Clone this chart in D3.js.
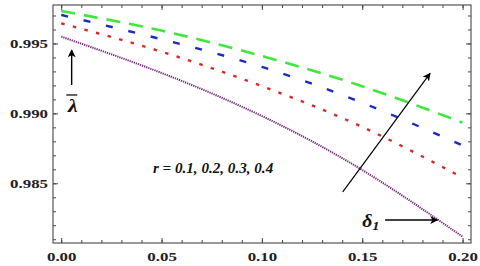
<!DOCTYPE html>
<html>
<head>
<meta charset="utf-8">
<script src="https://cdn.jsdelivr.net/npm/d3@7"></script>
<style>
  html, body { margin: 0; padding: 0; background: #fff; }
  svg { display: block; }
  .axis text { font-family: "Liberation Serif", "Times New Roman", serif; font-weight: bold; font-size: 13.5px; fill: #222; }
  .axis line { stroke: #444; }
  .note { font-family: "Liberation Serif", "Times New Roman", serif; font-weight: bold; font-style: italic; fill: #111; }
</style>
</head>
<body>
<div id="chart"></div>
<script>
/* DATA */
const delta1 = [0.00, 0.05, 0.10, 0.15, 0.20];
const lambdaR1 = [0.99732, 0.99592, 0.99410, 0.99194, 0.98934]; // green
const lambdaR2 = [0.99704, 0.99530, 0.99332, 0.99076, 0.98771]; // blue
const lambdaR3 = [0.99644, 0.99441, 0.99195, 0.98903, 0.98541]; // red
const lambdaR4 = [0.99549, 0.99289, 0.98981, 0.98595, 0.98118]; // purple
const xMajorTicks = [0.00, 0.05, 0.10, 0.15, 0.20];
const yMajorTicks = [0.985, 0.990, 0.995];
const rLabel = "r = 0.1, 0.2, 0.3, 0.4";

/* CONSTANTS */
const width = 480,
  height = 266,
  frame = { left: 53, right: 471, top: 5, bottom: 243 },
  stretch = 1.25; // the picture is a bit wider than tall

const series = [
  { values: lambdaR1, color: "#3ee83a", width: 2.6, dash: "14,9" },
  { values: lambdaR2, color: "#1b2ac4", width: 2.4, dash: "7,16" },
  { values: lambdaR3, color: "#d42a2a", width: 2.4, dash: "3.5,8.5" },
  { values: lambdaR4, color: "#7a2a80", width: 2, dash: "1.3,0.9" }
];

const xScale = d3.scaleLinear()
  .domain([-0.0041, 0.2042])
  .range([frame.left, frame.right]);

const yScale = d3.scaleLinear()
  .domain([0.98073, 0.99775])
  .range([frame.bottom, frame.top]);

const svg = d3.select("#chart")
  .append("svg")
  .attr("width", width)
  .attr("height", height);

const defs = svg.append("defs");
defs.append("marker")
  .attr("id", "head")
  .attr("viewBox", "0 0 10 10")
  .attr("refX", 9)
  .attr("refY", 5)
  .attr("markerWidth", 11)
  .attr("markerHeight", 8)
  .attr("markerUnits", "userSpaceOnUse")
  .attr("orient", "auto")
  .append("path")
  .attr("d", "M0,0 L10,5 L0,10 L2.5,5 Z")
  .attr("fill", "#000");

/* AXES */
const xMinor = d3.range(0, 0.2001, 0.01);
const yMinor = d3.range(0.981, 0.9975, 0.001);

// minor ticks (all four sides)
svg.append("g").attr("class", "axis")
  .attr("transform", `translate(0,${frame.bottom})`)
  .call(d3.axisBottom(xScale).tickValues(xMinor).tickSize(-3).tickFormat(""));
svg.append("g").attr("class", "axis")
  .attr("transform", `translate(0,${frame.top})`)
  .call(d3.axisTop(xScale).tickValues(xMinor).tickSize(-3).tickFormat(""));
svg.append("g").attr("class", "axis")
  .attr("transform", `translate(${frame.left},0)`)
  .call(d3.axisLeft(yScale).tickValues(yMinor).tickSize(-3).tickFormat(""));
svg.append("g").attr("class", "axis")
  .attr("transform", `translate(${frame.right},0)`)
  .call(d3.axisRight(yScale).tickValues(yMinor).tickSize(-3).tickFormat(""));

// major ticks
const xAxisG = svg.append("g").attr("class", "axis")
  .attr("transform", `translate(0,${frame.bottom})`)
  .call(d3.axisBottom(xScale).tickValues(xMajorTicks).tickSize(-5).tickPadding(8).tickFormat(d3.format(".2f")));
svg.append("g").attr("class", "axis")
  .attr("transform", `translate(0,${frame.top})`)
  .call(d3.axisTop(xScale).tickValues(xMajorTicks).tickSize(-5).tickFormat(""));
const yAxisG = svg.append("g").attr("class", "axis")
  .attr("transform", `translate(${frame.left},0)`)
  .call(d3.axisLeft(yScale).tickValues(yMajorTicks).tickSize(-5).tickPadding(4).tickFormat(d3.format(".3f")));
svg.append("g").attr("class", "axis")
  .attr("transform", `translate(${frame.right},0)`)
  .call(d3.axisRight(yScale).tickValues(yMajorTicks).tickSize(-5).tickFormat(""));

svg.selectAll(".axis").attr("font-family", null).attr("font-size", null);
svg.selectAll(".axis .domain").remove();
xAxisG.selectAll("text").attr("transform", `scale(${stretch},1)`);
yAxisG.selectAll("text").attr("transform", `scale(${stretch},1)`);

// frame
svg.append("rect")
  .attr("x", frame.left)
  .attr("y", frame.top)
  .attr("width", frame.right - frame.left)
  .attr("height", frame.bottom - frame.top)
  .attr("fill", "none")
  .attr("stroke", "#555")
  .attr("stroke-width", 1.2);

/* CURVES */
const line = d3.line()
  .x((d, i) => xScale(delta1[i]))
  .y(d => yScale(d))
  .curve(d3.curveNatural);

svg.selectAll(".curve")
  .data(series)
  .join("path")
  .attr("class", "curve")
  .attr("d", d => line(d.values))
  .attr("fill", "none")
  .attr("stroke", d => d.color)
  .attr("stroke-width", d => d.width)
  .attr("stroke-dasharray", d => d.dash);

/* ANNOTATIONS */
// up arrow with lambda bar
svg.append("line")
  .attr("x1", xScale(0.0052)).attr("y1", yScale(0.99203))
  .attr("x2", xScale(0.0052)).attr("y2", yScale(0.99453))
  .attr("stroke", "#000").attr("stroke-width", 1.4)
  .attr("marker-end", "url(#head)");

svg.append("text")
  .attr("class", "note")
  .attr("transform", `translate(${xScale(0.0058)},${yScale(0.99010)}) scale(1.15,1)`)
  .attr("text-anchor", "middle")
  .style("font-size", "19px")
  .text("λ");
svg.append("line")
  .attr("x1", xScale(0.0055) - 6).attr("x2", xScale(0.0055) + 5)
  .attr("y1", yScale(0.99010) - 17).attr("y2", yScale(0.99010) - 17)
  .attr("stroke", "#111").attr("stroke-width", 1.3);

// r label
svg.append("text")
  .attr("class", "note")
  .attr("transform", `translate(${xScale(0.0457)},${yScale(0.98571)}) scale(1.08,1)`)
  .style("font-size", "14px")
  .text(rLabel);

// diagonal arrow through curves
svg.append("line")
  .attr("x1", xScale(0.1403)).attr("y1", yScale(0.98439))
  .attr("x2", xScale(0.1838)).attr("y2", yScale(0.99286))
  .attr("stroke", "#000").attr("stroke-width", 1.2)
  .attr("marker-end", "url(#head)");

// delta_1 label with arrow
const dl = svg.append("text")
  .attr("class", "note")
  .attr("transform", `translate(${xScale(0.1500)},${yScale(0.98187)}) scale(1.1,1)`)
  .style("font-size", "18px");
dl.append("tspan").text("δ");
dl.append("tspan").attr("dy", 3).style("font-size", "13px").text("1");

svg.append("line")
  .attr("x1", xScale(0.1614)).attr("y1", yScale(0.98237))
  .attr("x2", xScale(0.1875)).attr("y2", yScale(0.98237))
  .attr("stroke", "#000").attr("stroke-width", 1.6)
  .attr("marker-end", "url(#head)");
</script>
</body>
</html>
